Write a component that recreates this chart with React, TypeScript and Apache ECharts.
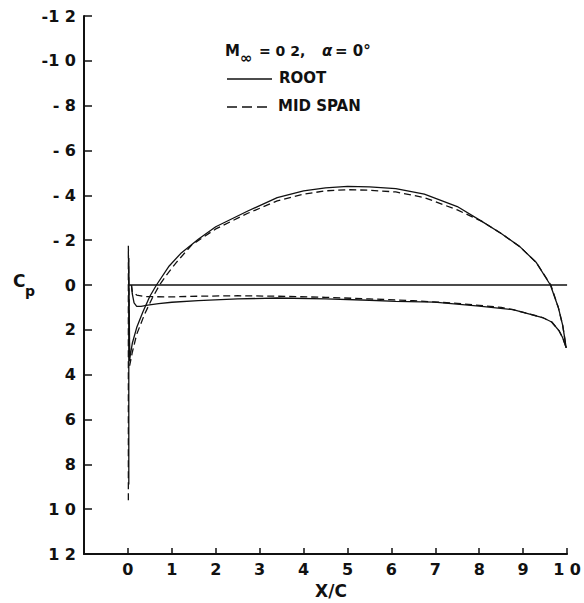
import React, { useEffect, useRef } from "react";
import * as echarts from "echarts";

// Pressure distributions, X/C vs Cp (Cp axis runs negative-up)
const rootUpperX = [0.002, 0.002, 0.004, 0.01, 0.02, 0.034, 0.05, 0.065, 0.094, 0.12, 0.161, 0.2, 0.273, 0.34, 0.4, 0.45, 0.5, 0.55, 0.61, 0.675, 0.75, 0.805, 0.85, 0.893, 0.93, 0.962, 0.98, 0.99, 0.998];
const rootUpperCp = [0.89, -0.12, 0.33, 0.26, 0.19, 0.12, 0.05, 0.0, -0.085, -0.14, -0.205, -0.26, -0.33, -0.39, -0.42, -0.433, -0.44, -0.438, -0.43, -0.405, -0.35, -0.285, -0.23, -0.17, -0.1, 0.0, 0.1, 0.18, 0.28];

const rootLowerX = [0.008, 0.01, 0.014, 0.02, 0.03, 0.045, 0.07, 0.1, 0.16, 0.25, 0.34, 0.45, 0.55, 0.61, 0.698, 0.8, 0.877, 0.944, 0.965, 0.982, 0.99, 0.998];
const rootLowerCp = [0.0, 0.04, 0.08, 0.095, 0.095, 0.09, 0.083, 0.077, 0.07, 0.062, 0.058, 0.062, 0.068, 0.073, 0.076, 0.094, 0.11, 0.145, 0.165, 0.205, 0.235, 0.28];

const zeroLineX = [0.0, 1.0];
const zeroLineCp = [0.0, 0.0];

const midUpperX = [0.001, 0.001, 0.004, 0.01, 0.02, 0.038, 0.055, 0.072, 0.09, 0.11, 0.146, 0.2, 0.273, 0.34, 0.4, 0.45, 0.5, 0.55, 0.61, 0.675, 0.75, 0.805, 0.85, 0.893, 0.93, 0.963, 0.98, 0.99, 0.998];
const midUpperCp = [0.96, -0.175, 0.36, 0.3, 0.22, 0.13, 0.06, 0.0, -0.05, -0.1, -0.18, -0.25, -0.32, -0.375, -0.405, -0.42, -0.425, -0.423, -0.415, -0.39, -0.335, -0.285, -0.23, -0.17, -0.1, 0.0, 0.1, 0.18, 0.28];

const midLowerX = [0.008, 0.01, 0.02, 0.04, 0.1, 0.16, 0.25, 0.34, 0.45, 0.55, 0.65, 0.75, 0.85, 0.877, 0.944, 0.965, 0.982, 0.99, 0.998];
const midLowerCp = [0.0, 0.03, 0.045, 0.052, 0.053, 0.05, 0.048, 0.05, 0.055, 0.062, 0.07, 0.082, 0.1, 0.11, 0.145, 0.165, 0.205, 0.235, 0.28];

const FONT = "'DejaVu Sans', Verdana, sans-serif";
const INK = "#111";

function pairs(xs: number[], ys: number[]): number[][] {
  return xs.map((x, i) => [x, ys[i]]);
}

// Tick labels printed without the decimal point, e.g. "-1 2", "- 8", "1 0"
function tickText(v: number): string {
  if (Math.abs(v) < 1e-9) return "0";
  let t = Math.abs(v).toFixed(1);
  if (t.startsWith("0.")) t = t.slice(1);
  t = t.replace(".", " ");
  return v < 0 ? "-" + t : t.trim();
}

export default function App() {
  const ref = useRef<HTMLDivElement>(null);

  useEffect(() => {
    if (!ref.current) return;
    const chart = echarts.init(ref.current, null, { renderer: "svg" });

    const solid = { color: INK, width: 1.3, type: "solid" as const };
    const dashed = { color: INK, width: 1.3, type: [7, 4] };

    const text = (x: number, y: number, s: string, size: number, extra: any = {}) => ({
      type: "text",
      x,
      y,
      style: {
        text: s,
        fill: INK,
        font: `${extra.italic ? "italic " : ""}bold ${size}px ${FONT}`,
        textAlign: extra.align || "left",
        align: extra.align || "left",
        textVerticalAlign: "middle",
        verticalAlign: "middle",
      },
    });

    chart.setOption({
      animation: false,
      backgroundColor: "#fff",
      grid: { left: 84, right: 9, top: 16, bottom: 49 },
      xAxis: {
        type: "value",
        min: -0.1,
        max: 1.0,
        interval: 0.1,
        axisLine: { onZero: false, lineStyle: { color: INK, width: 2 } },
        axisTick: { inside: true, length: 6, lineStyle: { color: INK, width: 1.5 } },
        axisLabel: {
          formatter: (v: number) => (v < -1e-9 ? "" : tickText(v)),
          color: INK,
          fontFamily: FONT,
          fontWeight: "bold",
          fontSize: 16,
          margin: 7,
        },
        splitLine: { show: false },
      },
      yAxis: {
        type: "value",
        inverse: true,
        min: -1.2,
        max: 1.2,
        interval: 0.2,
        axisLine: { onZero: false, lineStyle: { color: INK, width: 2 } },
        axisTick: { inside: true, length: 8, lineStyle: { color: INK, width: 1.5 } },
        axisLabel: {
          formatter: tickText,
          color: INK,
          fontFamily: FONT,
          fontWeight: "bold",
          fontSize: 16,
          margin: 8,
        },
        splitLine: { show: false },
      },
      series: [
        { name: "ROOT", type: "line", data: pairs(rootUpperX, rootUpperCp), showSymbol: false, lineStyle: solid },
        { name: "ROOT", type: "line", data: pairs(rootLowerX, rootLowerCp), showSymbol: false, lineStyle: solid },
        { name: "ROOT", type: "line", data: pairs(zeroLineX, zeroLineCp), showSymbol: false, lineStyle: solid },
        { name: "MID SPAN", type: "line", data: pairs(midUpperX, midUpperCp), showSymbol: false, lineStyle: dashed },
        { name: "MID SPAN", type: "line", data: pairs(midLowerX, midLowerCp), showSymbol: false, lineStyle: dashed },
      ],
      graphic: [
        // flow condition
        text(225, 51, "M", 15),
        text(240, 58, "∞", 15),
        text(259, 51, "= 0 2,", 14),
        text(322, 51, "α", 15, { italic: true }),
        text(335, 51, "= 0°", 15),
        // key
        { type: "line", shape: { x1: 227, y1: 79, x2: 272, y2: 79 }, style: { stroke: INK, lineWidth: 1.5 } },
        text(279, 78, "ROOT", 15),
        { type: "line", shape: { x1: 227, y1: 107, x2: 272, y2: 107 }, style: { stroke: INK, lineWidth: 1.5, lineDash: [10, 5] } },
        text(278, 106, "MID SPAN", 15),
        // axis titles
        text(13, 281, "C", 17),
        text(25, 291, "p", 14),
        text(331, 591, "X/C", 17, { align: "center" }),
      ],
    });

    return () => chart.dispose();
  }, []);

  return (
    <div
      ref={ref}
      style={{ position: "fixed", left: 0, top: 0, width: 584, height: 603, background: "#fff" }}
    />
  );
}
